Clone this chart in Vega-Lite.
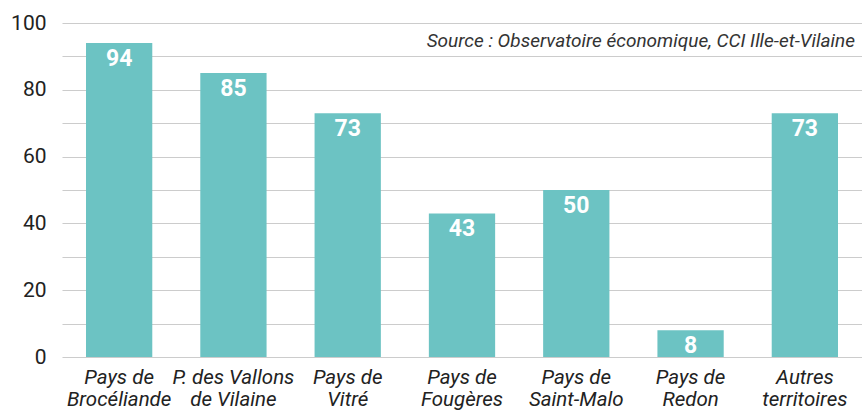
{
  "$schema": "https://vega.github.io/schema/vega-lite/v6.json",
  "width": 800,
  "height": 334,
  "autosize": "none",
  "padding": {"left": 62, "top": 23, "right": 0, "bottom": 59},
  "background": "white",
  "title": {
    "text": "Source : Observatoire économique, CCI Ille-et-Vilaine",
    "anchor": "end",
    "frame": "group",
    "orient": "top",
    "offset": -39,
    "dx": -7,
    "font": "Roboto",
    "fontSize": 19,
    "fontStyle": "italic",
    "fontWeight": "normal",
    "color": "#333333"
  },
  "data": {
    "values": [
      {"territoire": "Pays de|Brocéliande", "valeur": 94},
      {"territoire": "P. des Vallons|de Vilaine", "valeur": 85},
      {"territoire": "Pays de|Vitré", "valeur": 73},
      {"territoire": "Pays de|Fougères", "valeur": 43},
      {"territoire": "Pays de|Saint-Malo", "valeur": 50},
      {"territoire": "Pays de|Redon", "valeur": 8},
      {"territoire": "Autres|territoires", "valeur": 73}
    ]
  },
  "encoding": {
    "x": {
      "field": "territoire",
      "type": "nominal",
      "sort": null,
      "scale": {"paddingInner": 0.42, "paddingOuter": 0.21},
      "axis": {
        "title": null,
        "labelAngle": 0,
        "labelExpr": "split(datum.label, '|')",
        "labelFont": "Roboto",
        "labelFontSize": 20.5,
        "labelFontStyle": "italic",
        "labelColor": "#222222",
        "labelLineHeight": 22,
        "labelPadding": 10,
        "ticks": false,
        "domain": false
      }
    },
    "y": {
      "field": "valeur",
      "type": "quantitative",
      "scale": {"domain": [0, 100]},
      "axis": {
        "title": null,
        "values": [0, 10, 20, 30, 40, 50, 60, 70, 80, 90, 100],
        "labelExpr": "datum.value % 20 == 0 ? datum.label : ''",
        "labelFont": "Roboto",
        "labelFontSize": 21,
        "labelColor": "#222222",
        "labelPadding": 16,
        "ticks": false,
        "domain": false,
        "gridColor": "#cccccc",
        "gridWidth": 1.2
      }
    }
  },
  "layer": [
    {"mark": {"type": "bar", "color": "#6cc3c3"}},
    {
      "mark": {
        "type": "text",
        "baseline": "top",
        "dy": 5,
        "color": "white",
        "font": "Roboto",
        "fontSize": 23,
        "fontWeight": "bold"
      },
      "encoding": {"text": {"field": "valeur", "type": "quantitative"}}
    }
  ],
  "config": {"view": {"stroke": null}}
}
